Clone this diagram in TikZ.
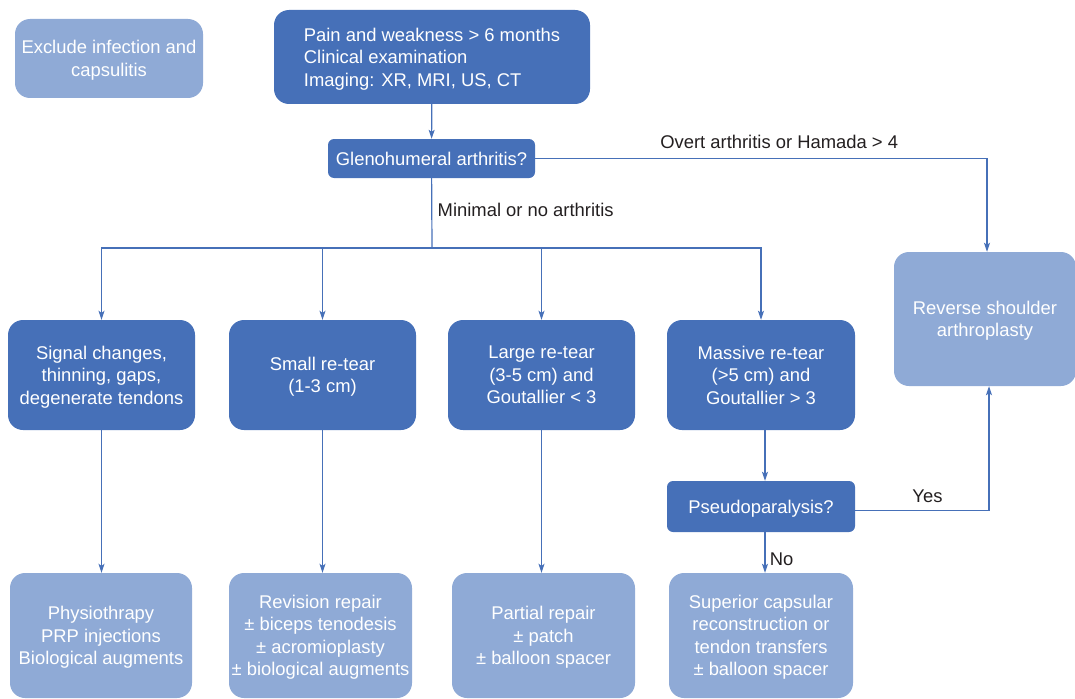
\documentclass[tikz,border=0pt]{standalone}
\usepackage{fontspec}
\setmainfont{Liberation Sans}
\usepackage{tikz}
\usetikzlibrary{arrows.meta, positioning}

\definecolor{darkbox}{RGB}{70,112,184}
\definecolor{lightbox}{RGB}{143,170,214}
\definecolor{labeltext}{RGB}{35,31,32}

\begin{document}
\begin{tikzpicture}[
    x=1pt, y=-1pt,
    box/.style={rectangle, rounded corners=15pt, align=center, text=white,
                inner sep=0pt, text depth=0pt, font=\fontsize{18.4}{22.5}\selectfont},
    dark/.style={box, fill=darkbox},
    light/.style={box, fill=lightbox},
    question/.style={dark, rounded corners=6pt},
    lbl/.style={text=labeltext, font=\fontsize{18.4}{22.5}\selectfont},
    arr/.style={draw=darkbox, line width=1.2pt, -{Stealth[length=9pt, width=6pt, inset=2pt]}},
    line/.style={draw=darkbox, line width=1.2pt}
]
\useasboundingbox (0,0) rectangle (1075,698);

% top of the chart
\node[light, minimum width=188pt, minimum height=79pt] (exclude) at (109,58.5) {Exclude infection and\\capsulitis};
\node[dark, minimum width=316pt, minimum height=94pt, align=left] (start) at (432,57)
    {Pain and weakness > 6 months\\Clinical examination\\Imaging: XR, MRI, US, CT};
\node[question, minimum width=207pt, minimum height=39pt] (gleno) at (431.5,158.5) {Glenohumeral arthritis?};
\node[light, minimum width=182pt, minimum height=134pt] (reverse) at (985,319) {Reverse shoulder\\arthroplasty};

% tear types
\node[dark, minimum width=187pt, minimum height=110pt] (signal) at (101.5,375) {Signal changes,\\thinning, gaps,\\degenerate tendons};
\node[dark, minimum width=187pt, minimum height=110pt] (small) at (322.5,375) {Small re-tear\\(1-3 cm)};
\node[dark, minimum width=187pt, minimum height=110pt] (large) at (541.5,375) {Large re-tear\\(3-5 cm) and\\Goutallier < 3};
\node[dark, minimum width=188pt, minimum height=110pt] (massive) at (761,375) {Massive re-tear\\(>5 cm) and\\Goutallier > 3};
\node[question, minimum width=188pt, minimum height=51pt] (pseudo) at (761,506.5) {Pseudoparalysis?};

% treatments
\node[light, minimum width=182pt, minimum height=125pt] (physio) at (101,635.5) {Physiothrapy\\PRP injections\\Biological augments};
\node[light, minimum width=183pt, minimum height=125pt] (revision) at (320.5,635.5) {Revision repair\\± biceps tenodesis\\± acromioplasty\\± biological augments};
\node[light, minimum width=183pt, minimum height=125pt] (partial) at (543.5,635.5) {Partial repair\\± patch\\± balloon spacer};
\node[light, minimum width=184pt, minimum height=125pt] (superior) at (761,635.5) {Superior capsular\\reconstruction or\\tendon transfers\\± balloon spacer};

\coordinate (split) at (432,248);

\draw[arr] (start) -- (gleno);
\draw[arr] (gleno.east) -| node[lbl, pos=0.27, above=6pt] {Overt arthritis or Hamada > 4} ([xshift=2pt]reverse.north);
\draw[line] (gleno) -- node[lbl, pos=0.46, right=2pt] {Minimal or no arthritis} (split);
\draw[arr] (split) -| (signal);
\draw[arr] (split) -| (small);
\draw[arr] (split) -| (large);
\draw[arr] (split) -| (massive);

\draw[arr] (signal) -- (signal |- physio.north);
\draw[arr] (small) -- (small |- revision.north);
\draw[arr] (large) -- (large |- partial.north);
\draw[arr] ([xshift=4pt]massive.south) -- ([xshift=4pt]pseudo.north);
\draw[arr] ([yshift=-4pt]pseudo.east) -| node[lbl, pos=0.27, above=4pt] {Yes} ([xshift=4pt]reverse.south);
\draw[arr] ([xshift=4pt]pseudo.south) -- node[lbl, pos=0.66, right=1pt] {No} ([xshift=4pt]superior.north);

\end{tikzpicture}
\end{document}
